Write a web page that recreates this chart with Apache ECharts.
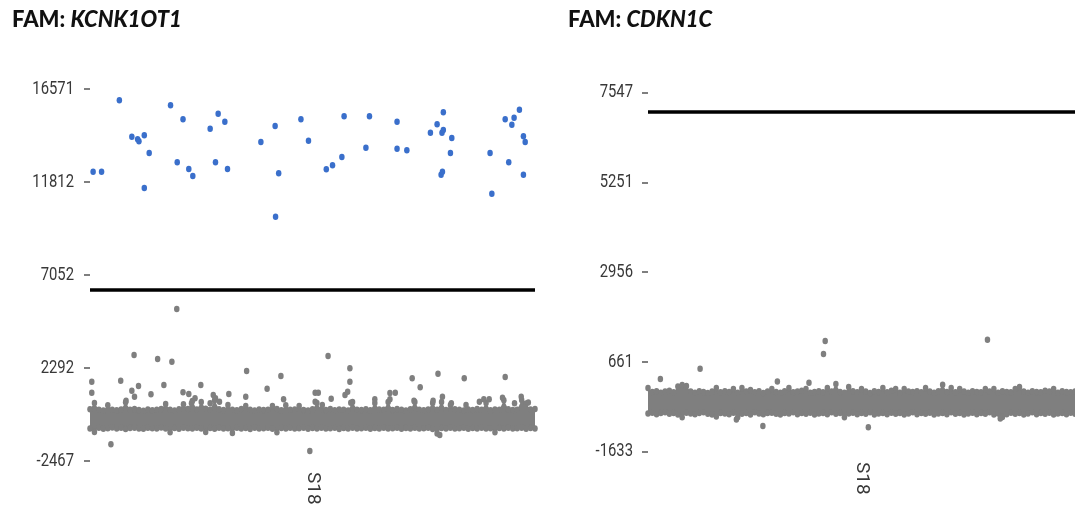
<!DOCTYPE html>
<html>
<head>
<meta charset="utf-8">
<script src="https://cdn.jsdelivr.net/npm/echarts@6/dist/echarts.min.js"></script>
<style>
  html, body { margin: 0; padding: 0; background: #fff; }
  #chart { width: 1075px; height: 507px; }
</style>
</head>
<body>
<div id="chart"></div>
<script>
// Droplet amplitude plots (FAM channel) for well S18, two assays.
const wellLabels = ['S18'];

// KCNK1OT1 assay
const kcnkTicks = [-2467, 2292, 7052, 11812, 16571];
const kcnkThreshold = 6284;
// positive droplets: [event, amplitude]
const kcnkPositive = [
  [7,12338],[26,12338],[66,15993],[94,14130],[107,13997],[110,13894],[122,14201],[133,13295],
  [122,11504],[181,15737],[209,15020],[196,12820],[222,12477],[231,12118],[270,14539],[288,15307],
  [303,14897],[282,12820],[309,12477],[384,13858],[416,14677],[424,12257],[417,10035],[474,15020],
  [491,13925],[531,12461],[545,12666],[566,13091],[571,15174],[620,13567],[628,15174],[690,14897],
  [690,13516],[712,13434],[765,14334],[780,14764],[794,15379],[791,14334],[794,14473],[813,14063],
  [810,13295],[789,12185],[792,12338],[899,13295],[903,11212],[933,15020],[953,15102],[948,14744],
  [965,15512],[974,14150],[978,13858],[941,12820],[974,12185]
];
// negative droplets lying outside the main cluster
const kcnkNegOutliers = [
  [195,5312],[99,2958],[152,2753],[184,2615],[352,2139],[429,1883],[4,1591],[4,1028],[69,1642],
  [109,1371],[94,1130],[100,823],[81,618],[137,946],[166,1422],[209,1048],[222,961],[249,1422],
  [277,910],[282,741],[270,485],[291,567],[312,961],[350,823],[398,1233],[435,690],[47,-1613],
  [236,741],[228,485],[535,2906],[584,2277],[724,1765],[782,2001],[841,1765],[933,1832],
  [506,1028],[513,1028],[506,567],[522,400],[542,721],[573,910],[579,1079],[584,1591],[586,516],
  [640,690],[674,1018],[686,1028],[674,690],[742,1304],[728,618],[771,618],[792,823],[812,485],
  [845,400],[875,567],[885,690],[897,690],[927,775],[954,485],[969,823],[985,526],[786,-1137],
  [494,-1956]
];
// upper and lower edge of the negative cluster, one value per bin of 10 events
const kcnkBandHigh = [
  180,500,150,120,390,160,130,170,540,150,200,140,110,170,130,160,190,450,150,120,
  180,440,200,600,170,550,210,160,640,180,140,400,160,130,190,350,150,120,170,140,
  160,350,190,130,390,150,170,350,140,120,180,500,160,140,190,130,170,150,120,550,
  160,140,180,130,500,170,150,550,140,190,160,120,180,550,150,130,170,500,160,550,
  140,400,180,150,120,170,140,190,160,500,130,170,150,640,180,140,160,650,480,170,200
];
const kcnkBandLow = [
  -800,-980,-760,-820,-790,-750,-810,-770,-830,-780,-760,-800,-820,-770,-790,-810,-750,-800,-1000,-780,
  -820,-760,-790,-810,-770,-800,-980,-780,-820,-760,-800,-790,-1040,-770,-810,-780,-830,-760,-800,-790,
  -770,-820,-990,-780,-800,-760,-810,-790,-770,-820,-780,-800,-760,-810,-790,-770,-830,-780,-800,-760,
  -810,-790,-770,-820,-780,-800,-760,-810,-790,-770,-820,-780,-800,-760,-810,-790,-770,-830,-1060,-780,
  -800,-760,-810,-790,-770,-820,-780,-800,-760,-810,-790,-990,-780,-800,-760,-810,-790,-770,-820,-780,-800
];

// CDKN1C assay
const cdknTicks = [-1633, 661, 2956, 5251, 7547];
const cdknThreshold = 7056;
const cdknNegOutliers = [
  [29,219],[122,482],[303,160],[377,124],[415,1190],[411,858],[207,-812],[269,-983],
  [795,1224],[516,-1016],[825,-786]
];
const cdknBandHigh = [
  -12,-110,-90,-130,-100,-80,-120,30,65,40,-100,-130,-90,-110,-140,-100,-12,-120,-90,-110,
  -37,-130,-12,-100,-63,-120,-90,-140,-100,-37,-110,-130,-90,-12,-120,-100,-80,-37,-130,-110,
  -90,-120,-12,-100,91,-110,-130,14,-90,-120,-37,-100,-140,-90,-110,-12,-120,-80,-37,-130,
  -37,-100,-110,-90,-120,-12,-100,-130,-90,73,-110,-12,-120,-37,-100,-130,-90,-110,-120,-37,
  -100,-37,-130,-90,-110,-120,-37,14,-100,-130,-90,-110,-120,-80,-100,-37,-130,-90,-110,-120,-100
];
const cdknBandLow = [
  -660,-640,-680,-650,-630,-670,-650,-690,-760,-640,-660,-680,-650,-630,-670,-690,-740,-650,-660,-680,
  -640,-760,-670,-650,-690,-630,-660,-680,-650,-640,-670,-690,-650,-660,-630,-680,-650,-670,-640,-690,
  -660,-650,-680,-630,-670,-650,-760,-660,-640,-680,-650,-670,-630,-690,-660,-650,-680,-640,-670,-650,
  -690,-660,-630,-680,-650,-670,-640,-690,-660,-650,-680,-630,-670,-650,-690,-660,-640,-680,-650,-670,
  -630,-690,-660,-750,-680,-640,-670,-650,-690,-660,-630,-680,-650,-670,-640,-690,-660,-650,-680,-640,-670
];

const bandStep = 10;      // events per bin in the band arrays
const eventCount = 1000;  // events shown per well

const BLUE = '#3a6fcb';
const GREY = '#7f7f7f';
const TEXT = '#383838';
// condensed look for tick text: Roboto squeezed horizontally
const LABEL_FONT = { family: 'Roboto', size: 19, squeeze: 0.78 };

function bandEdgePoints(high, low) {
  const pts = [];
  high.forEach((v, k) => pts.push([k * bandStep, v]));
  low.forEach((v, k) => pts.push([k * bandStep, v]));
  return pts;
}

function bandSeries(high, low, axisIdx) {
  return {
    type: 'custom',
    xAxisIndex: axisIdx.x,
    yAxisIndex: axisIdx.y,
    silent: true,
    z: 1,
    data: [[0, 0]],
    renderItem: function (params, api) {
      const pts = [];
      for (let k = 0; k < high.length; k++) pts.push(api.coord([k * bandStep, high[k]]));
      for (let k = low.length - 1; k >= 0; k--) pts.push(api.coord([k * bandStep, low[k]]));
      return { type: 'polygon', shape: { points: pts }, style: { fill: GREY } };
    }
  };
}

function yAxisFor(gridIndex, min, max, ticks) {
  return {
    type: 'value', gridIndex: gridIndex, min: min, max: max,
    axisLine: { show: false },
    splitLine: { show: false },
    axisTick: { show: true, customValues: ticks, length: 6, lineStyle: { color: '#555', width: 1.5 } },
    axisLabel: { show: false }
  };
}

function eventAxis(gridIndex) {
  return { type: 'value', gridIndex: gridIndex, min: 0, max: eventCount, show: false };
}

function wellAxis(gridIndex) {
  return {
    type: 'category', gridIndex: gridIndex, data: wellLabels, position: 'bottom',
    axisLine: { show: false }, axisTick: { show: false }, splitLine: { show: false },
    axisLabel: { show: false }
  };
}

const threshold = (value) => ({
  silent: true, symbol: 'none', label: { show: false },
  lineStyle: { color: '#000', width: 3.5, type: 'solid' },
  emphasis: { disabled: true },
  data: [{ yAxis: value }]
});

const titleRich = {
  a: { fontFamily: 'Lato', fontWeight: 900, fontSize: 22, color: '#111' },
  b: { fontFamily: 'Lato', fontWeight: 900, fontStyle: 'italic', fontSize: 22, color: '#111' }
};

const chart = echarts.init(document.getElementById('chart'), null, { renderer: 'canvas' });
chart.setOption({
  animation: false,
  backgroundColor: '#fff',
  title: [
    { text: '{a|FAM: }{b|KCNK1OT1}', left: 12, top: 9, padding: 0, textStyle: { rich: titleRich } },
    { text: '{a|FAM: }{b|CDKN1C}', left: 568, top: 9, padding: 0, textStyle: { rich: titleRich } }
  ],
  grid: [
    { left: 90, top: 75, width: 445, height: 390 },
    { left: 648, top: 75, width: 445, height: 381 }
  ],
  xAxis: [eventAxis(0), wellAxis(0), eventAxis(1), wellAxis(1)],
  yAxis: [
    yAxisFor(0, -2672, 17288, kcnkTicks),
    yAxisFor(1, -1748, 7994.5, cdknTicks)
  ],
  series: [
    bandSeries(kcnkBandHigh, kcnkBandLow, { x: 0, y: 0 }),
    {
      type: 'scatter', xAxisIndex: 0, yAxisIndex: 0, silent: true, z: 2,
      symbolSize: [5.5, 6.5], itemStyle: { color: GREY, opacity: 1 },
      data: bandEdgePoints(kcnkBandHigh, kcnkBandLow).concat(kcnkNegOutliers)
    },
    {
      type: 'scatter', xAxisIndex: 0, yAxisIndex: 0, silent: true, z: 3,
      symbolSize: [5.5, 6.5], itemStyle: { color: BLUE, opacity: 1 },
      data: kcnkPositive,
      markLine: threshold(kcnkThreshold)
    },
    bandSeries(cdknBandHigh, cdknBandLow, { x: 2, y: 1 }),
    {
      type: 'scatter', xAxisIndex: 2, yAxisIndex: 1, silent: true, z: 2,
      symbolSize: [5.5, 6.5], itemStyle: { color: GREY, opacity: 1 },
      data: bandEdgePoints(cdknBandHigh, cdknBandLow).concat(cdknNegOutliers),
      markLine: threshold(cdknThreshold)
    }
  ]
});

// Axis text in a condensed face, placed through the axes' own scales.
function labelText(x, y, text, rotation, align, squeeze) {
  return {
    type: 'text', x: x, y: y, rotation: rotation, scaleX: squeeze, silent: true, z: 10,
    style: {
      text: text, fill: TEXT, fontFamily: LABEL_FONT.family, fontSize: LABEL_FONT.size,
      align: align, verticalAlign: 'middle'
    }
  };
}

function axisTexts(xEventAxis, xWellAxis, yAxisIdx, ticks, labelGap, wellGap) {
  const out = [];
  const axisX = chart.convertToPixel({ xAxisIndex: xEventAxis }, 0);
  ticks.forEach(t => {
    const y = chart.convertToPixel({ yAxisIndex: yAxisIdx }, t);
    out.push(labelText(axisX - labelGap, y, String(t), 0, 'right', LABEL_FONT.squeeze));
  });
  const yOpt = chart.getOption().yAxis[yAxisIdx];
  const bottom = chart.convertToPixel({ yAxisIndex: yAxisIdx }, yOpt.min);
  wellLabels.forEach(w => {
    const x = chart.convertToPixel({ xAxisIndex: xWellAxis }, w);
    out.push(labelText(x, bottom + wellGap, w, -Math.PI / 2, 'left', 1));
  });
  return out;
}

chart.setOption({
  graphic: axisTexts(0, 1, 0, kcnkTicks, 16, 7).concat(axisTexts(2, 3, 1, cdknTicks, 15, 6))
});
</script>
</body>
</html>
